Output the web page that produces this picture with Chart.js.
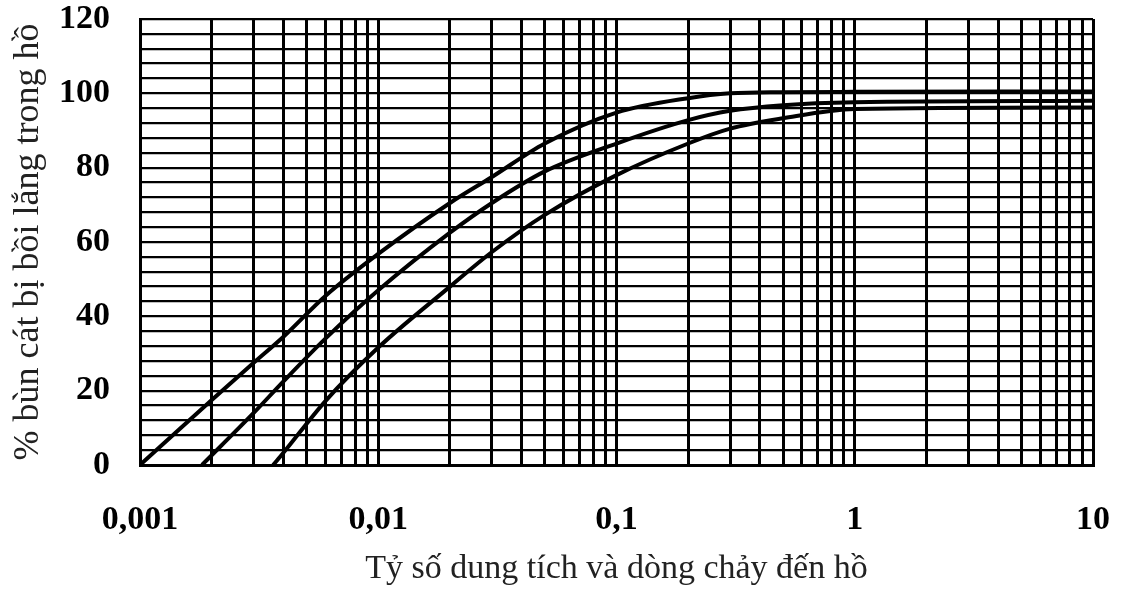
<!DOCTYPE html>
<html>
<head>
<meta charset="utf-8">
<script src="https://cdn.jsdelivr.net/npm/chart.js@4"></script>
<style>
html,body{margin:0;padding:0;background:#fff;}
#wrap{width:1123px;height:589px;}
</style>
</head>
<body>
<div id="wrap"><canvas id="c" width="1123" height="589"></canvas></div>
<script>
// ---- Data ----
const series1X = [0.001, 0.002, 0.003, 0.004, 0.006, 0.01, 0.02, 0.03, 0.05, 0.1, 0.2, 0.3, 0.5, 1, 10];
const series1Y = [0, 17.5, 27.5, 34.5, 45.5, 56.8, 70.5, 77.5, 86.5, 94.8, 98.7, 100, 100.3, 100.4, 100.5];

const series2X = [0.00182, 0.003, 0.004, 0.006, 0.01, 0.02, 0.03, 0.05, 0.1, 0.2, 0.3, 0.5, 1, 10];
const series2Y = [0, 14, 22.5, 34, 47, 62.5, 70.5, 79, 86.5, 92.8, 95.3, 96.8, 97.6, 98];

const series3X = [0.00362, 0.004, 0.006, 0.01, 0.02, 0.03, 0.05, 0.1, 0.2, 0.3, 0.5, 1, 10];
const series3Y = [0, 3.3, 17.2, 31.6, 48, 57.3, 67.3, 78, 86.5, 90.5, 93.3, 95.8, 96.2];

const xGridValues = [0.001,0.002,0.003,0.004,0.005,0.006,0.007,0.008,0.009,
                     0.01,0.02,0.03,0.04,0.05,0.06,0.07,0.08,0.09,
                     0.1,0.2,0.3,0.4,0.5,0.6,0.7,0.8,0.9,
                     1,2,3,4,5,6,7,8,9,10];
const xLabelValues = [0.001, 0.01, 0.1, 1, 10];
const xLabelTexts  = ["0,001", "0,01", "0,1", "1", "10"];

const yGridValues = [0,4,8,12,16,20,24,28,32,36,40,44,48,52,56,60,64,68,72,76,80,84,88,92,96,100,104,108,112,116,120];
const yLabelValues = [0, 20, 40, 60, 80, 100, 120];

const xTitle = "Tỷ số dung tích và dòng chảy đến hồ";
const yTitle = "% bùn cát bị bồi lắng trong hồ";

// ---- Build chart ----
function pts(xs, ys){ return xs.map((x,i)=>({x:x, y:ys[i]})); }
function lineDs(xs, ys){
  return {data: pts(xs, ys), borderColor:'#000', borderWidth:4, pointRadius:0,
          fill:false, cubicInterpolationMode:'monotone'};
}
const serif = "'Liberation Serif','DejaVu Serif',serif";
function noPad(s){ s.paddingTop=0; s.paddingBottom=0; s.paddingLeft=0; s.paddingRight=0; }

new Chart(document.getElementById('c'), {
  type:'line',
  data:{datasets:[lineDs(series1X,series1Y), lineDs(series2X,series2Y), lineDs(series3X,series3Y)]},
  options:{
    responsive:false, animation:false,
    layout:{padding:{left:7, right:30, top:19, bottom:0}},
    plugins:{legend:{display:false}, tooltip:{enabled:false}},
    scales:{
      x:{
        type:'logarithmic', min:0.001, max:10,
        afterBuildTicks:(s)=>{ s.ticks = xGridValues.map(v=>({value:v})); },
        afterFit:(s)=>{ s.height = 124; noPad(s); },
        ticks:{
          autoSkip:false, maxRotation:0, minRotation:0, padding:35, color:'#000',
          font:{family:serif, size:34, weight:'bold'},
          callback:(v)=>{ const i = xLabelValues.findIndex(t=>Math.abs(t-v)/t<1e-6); return i>=0 ? xLabelTexts[i] : ''; }
        },
        grid:{color:'#000', lineWidth:3, drawTicks:false},
        border:{color:'#000', width:3},
        title:{display:true, text:xTitle, color:'#222', font:{family:serif, size:34}, padding:{top:2,bottom:0}}
      },
      y:{
        type:'linear', min:0, max:120,
        afterBuildTicks:(s)=>{ s.ticks = yGridValues.map(v=>({value:v})); },
        afterFit:(s)=>{ s.width = 133; noPad(s); },
        ticks:{
          autoSkip:false, padding:30, color:'#000',
          font:{family:serif, size:34, weight:'bold'},
          callback:(v)=> yLabelValues.includes(v) ? String(v) : ''
        },
        grid:{color:'#000', lineWidth:2.2, drawTicks:false},
        border:{color:'#000', width:3},
        title:{display:true, text:yTitle, color:'#222', font:{family:serif, size:36}, padding:{top:0,bottom:4}}
      }
    }
  }
});
</script>
</body>
</html>
